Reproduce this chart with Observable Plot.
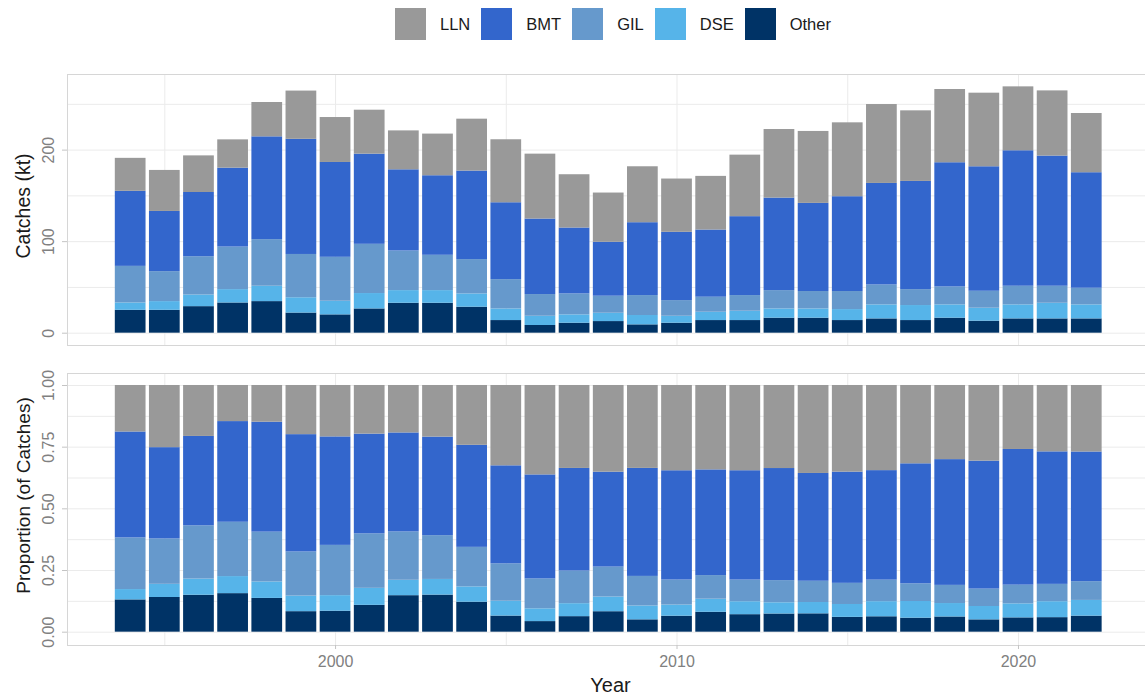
<!DOCTYPE html>
<html><head><meta charset="utf-8">
<script src="https://cdn.jsdelivr.net/npm/d3@7"></script>
<script src="https://cdn.jsdelivr.net/npm/@observablehq/plot@0.6"></script>
<style>
body{margin:0;background:#fff;font-family:"Liberation Sans",Arial,sans-serif;}
#wrap{position:relative;width:1145px;height:698px;overflow:hidden;background:#fff;}
#legend{position:absolute;left:395px;top:8px;display:flex;align-items:center;height:32px;font-size:16.5px;color:#1a1a1a;}
.item{display:flex;align-items:center;margin-right:11px}
.sw{width:31px;height:32px;margin-right:14px}
#p1{position:absolute;left:0;top:48px}
#p2{position:absolute;left:0;top:370px}
</style></head><body>
<div id="wrap"><div id="legend"></div><div id="p1"></div><div id="p2"></div></div>
<script>
const years = [1994,1995,1996,1997,1998,1999,2000,2001,2002,2003,2004,2005,2006,2007,2008,2009,2010,2011,2012,2013,2014,2015,2016,2017,2018,2019,2020,2021,2022];
const other = [25,25,29,33,34.5,22,20,26.5,32.7,32.7,28.4,13.8,8.4,10.9,12.7,9.1,10.9,13.8,13.8,16.4,16.4,13.8,15.6,13.8,16.4,13.1,15.6,15.6,15.6];
const dse   = [8,9.5,12.7,14.6,16.8,16.7,14.9,16.8,13.8,13.8,14.5,12.7,10.1,9.1,9.1,10.2,7.6,9.1,10.2,10.1,10.1,12,15.3,16.4,14.5,14.2,15.3,17.1,15.3];
const gil   = [40,32.7,41.8,46.5,50.9,47.3,48,53.8,43.3,38.6,37.5,32,23.7,22.9,18.6,21.8,17.1,16.4,17.1,20,19,19.7,21.8,17.4,19.6,18.5,20.4,18.6,18.2];
const bmt   = [82,65.8,70.2,86.2,112.3,125.8,103.6,98.5,88.7,86.9,96.7,84,82.5,72,58.9,79.6,74.6,73.4,86.2,101.1,96.3,103.6,110.9,118.2,135.7,136,148,142.2,126.2];
const lln   = [36,44.8,40,30.9,37.5,52.7,49.1,48,42.5,45.5,56.7,68.8,70.9,58.2,53.8,61.1,58.2,58.6,67.2,74.9,78.6,80.7,86.2,77.1,80,80.4,69.8,71.2,64.7];

const seriesNames = ["LLN","BMT","GIL","DSE","Other"];
const seriesColors = ["#999999","#3366CC","#6699CC","#56B4E9","#003366"];
const stackOrder = ["Other","DSE","GIL","BMT","LLN"];
const xTickLabels = [2000, 2010, 2020];
const xGridValues = [1995, 2000, 2005, 2010, 2015, 2020];
const yTicksTop = [0, 100, 200];
const yGridTop = [0, 50, 100, 150, 200, 250];
const yTicksBottom = [0, 0.25, 0.5, 0.75, 1];
const yGridBottom = [0, 0.125, 0.25, 0.375, 0.5, 0.625, 0.75, 0.875, 1];

const bySeries = {Other: other, DSE: dse, GIL: gil, BMT: bmt, LLN: lln};
const rows = [];
for (const s of stackOrder) years.forEach((y, i) => rows.push({year: y, series: s, value: bySeries[s][i]}));

// legend
const leg = document.getElementById("legend");
seriesNames.forEach((s, i) => {
  const it = document.createElement("div"); it.className = "item";
  const sw = document.createElement("div"); sw.className = "sw"; sw.style.background = seriesColors[i];
  const tx = document.createElement("span"); tx.textContent = s;
  it.appendChild(sw); it.appendChild(tx); leg.appendChild(it);
});

const font = '"Liberation Sans", Arial, sans-serif';
const gridColor = "#EBEBEB";
const common = {
  width: 1145, marginLeft: 67, marginRight: 0,
  x: {domain: [1992.15, 2023.72], axis: null},
  color: {domain: seriesNames, range: seriesColors},
  style: {fontFamily: font, fontSize: "16px", background: "transparent", overflow: "visible"}
};
const barOpts = (extra) => Plot.stackY({
  ...extra,
  x: "year", x1: d => d.year - 0.45, x2: d => d.year + 0.45,
  y: "value", fill: "series"
});

const p1 = Plot.plot({
  ...common, height: 322, marginTop: 26, marginBottom: 25,
  y: {domain: [-13.45, 282.6], axis: null},
  marks: [
    Plot.gridX(xGridValues, {stroke: gridColor, strokeOpacity: 1}),
    Plot.gridY(yGridTop, {stroke: gridColor, strokeOpacity: 1}),
    Plot.rect(rows, barOpts({})),
    Plot.frame({stroke: "#D6D6D6"}),
    Plot.axisY(yTicksTop, {tickSize: 5, tickPadding: 9, tickRotate: -90, stroke: "#C4C4C4", fill: "#808080", label: null, fontSize: 16}),
    Plot.text(["Catches (kt)"], {frameAnchor: "left", dx: -44, dy: -4, rotate: -90, fontSize: 19.5, fill: "#1a1a1a", textAnchor: "middle", lineAnchor: "middle"})
  ]
});
document.getElementById("p1").appendChild(p1);

const p2 = Plot.plot({
  ...common, height: 328, marginTop: 3, marginBottom: 53,
  y: {domain: [-0.054, 1.0486], axis: null},
  marks: [
    Plot.gridX(xGridValues, {stroke: gridColor, strokeOpacity: 1}),
    Plot.gridY(yGridBottom, {stroke: gridColor, strokeOpacity: 1}),
    Plot.rect(rows, barOpts({offset: "normalize"})),
    Plot.frame({stroke: "#D6D6D6"}),
    Plot.axisY(yTicksBottom, {tickSize: 5, tickPadding: 9, tickRotate: -90, tickFormat: d3.format(".2f"), stroke: "#C4C4C4", fill: "#808080", label: null, fontSize: 16}),
    Plot.axisX(xTickLabels, {tickSize: 4, tickPadding: 6, tickFormat: d => String(d), stroke: "#C4C4C4", fill: "#808080", label: null, fontSize: 16}),
    Plot.text(["Proportion (of Catches)"], {frameAnchor: "left", dx: -44, dy: -14, rotate: -90, fontSize: 19, fill: "#1a1a1a", textAnchor: "middle", lineAnchor: "middle"}),
    Plot.text(["Year"], {frameAnchor: "bottom", dx: 4, dy: 40, fontSize: 20, fill: "#1a1a1a", textAnchor: "middle", lineAnchor: "middle"})
  ]
});
document.getElementById("p2").appendChild(p2);
</script>
</body></html>
